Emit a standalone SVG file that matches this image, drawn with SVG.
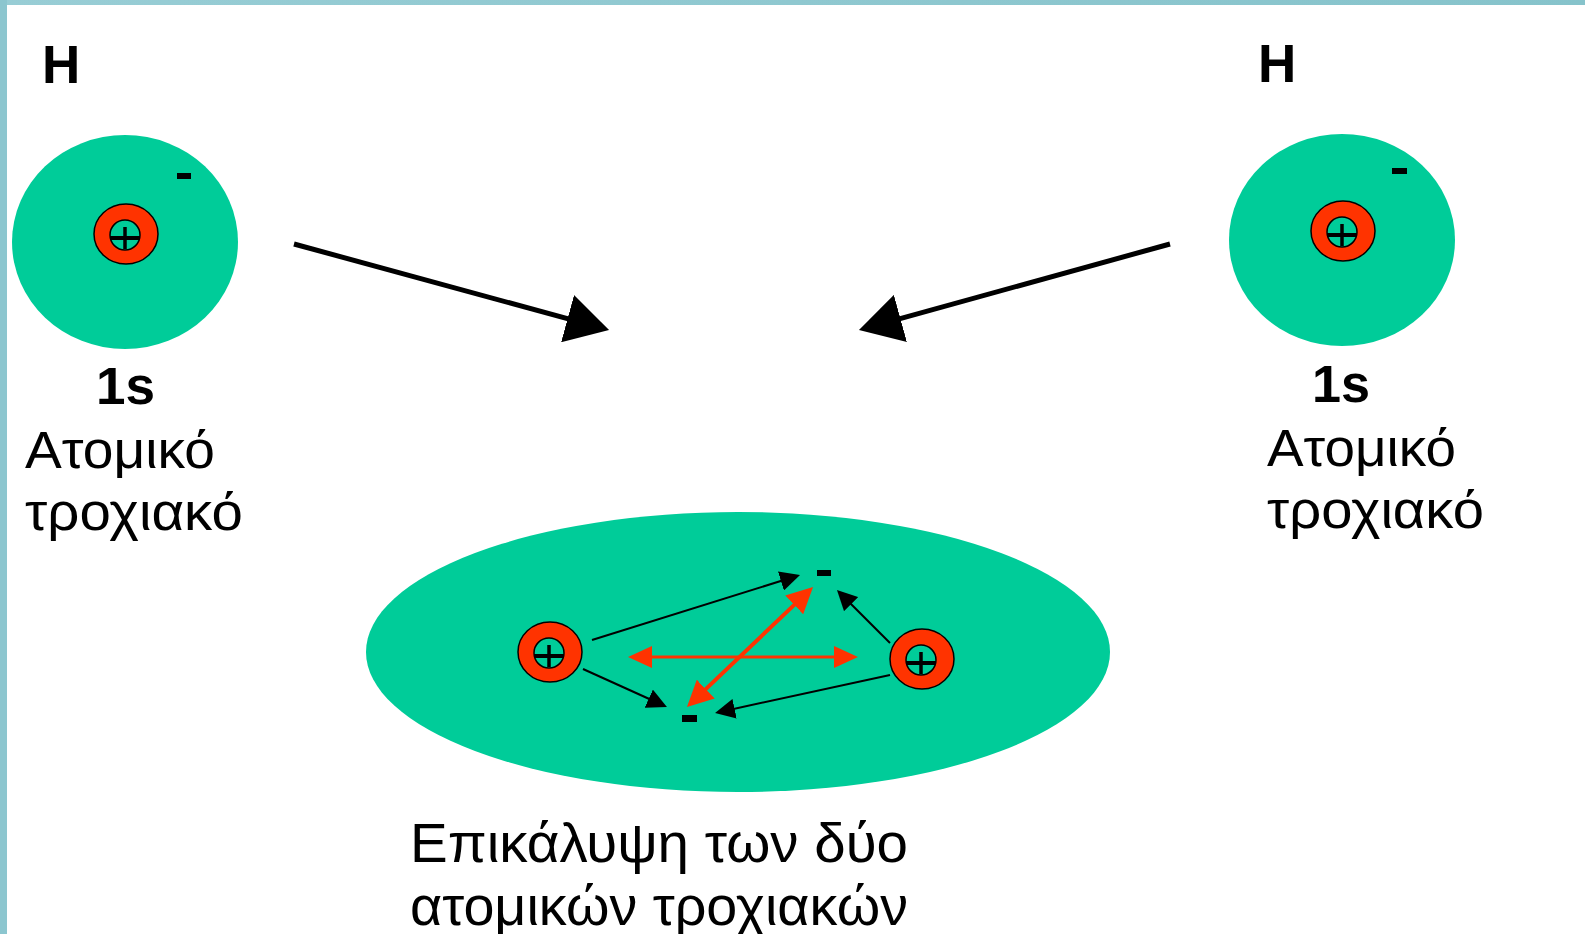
<svg xmlns="http://www.w3.org/2000/svg" width="1585" height="934" viewBox="0 0 1585 934">
  <style>
    .cloud { fill: #00cc99; }
    .ring { fill: #ff3300; stroke: #000; stroke-width: 1.5; }
    .core { fill: #00cc99; stroke: #000; stroke-width: 1.5; }
    .plus { stroke: #000; fill: none; }
    .minus { fill: #000; }
    .lbl { font-family: "Liberation Sans", Arial, sans-serif; fill: #000; }
    .bold { font-weight: bold; }
    .big { stroke: #000; stroke-width: 5; fill: none; }
    .thin { stroke: #000; stroke-width: 2; fill: none; }
    .red3 { stroke: #ff3300; stroke-width: 3; fill: none; }
    .red4 { stroke: #ff3300; stroke-width: 4; fill: none; }
  </style>
  <defs>
    <linearGradient id="frameTop" x1="0" y1="0" x2="1" y2="0">
      <stop offset="0" stop-color="#98cdd5"/>
      <stop offset="1" stop-color="#86c3cb"/>
    </linearGradient>
    <marker id="headBig" markerUnits="userSpaceOnUse" viewBox="0 0 43 49" markerWidth="43" markerHeight="49" refX="33" refY="24.5" orient="auto">
      <path d="M0,0 L43,24.5 L0,49 Z" fill="#000"/>
    </marker>
    <marker id="headSmall" markerUnits="userSpaceOnUse" viewBox="0 0 20 20" markerWidth="20" markerHeight="20" refX="14" refY="10" orient="auto">
      <path d="M0,0 L20,10 L0,20 Z" fill="#000"/>
    </marker>
    <marker id="headRed" markerUnits="userSpaceOnUse" viewBox="0 0 24 22" markerWidth="24" markerHeight="22" refX="18" refY="11" orient="auto-start-reverse">
      <path d="M0,0 L24,11 L0,22 Z" fill="#ff3300"/>
    </marker>
    <marker id="headRedBig" markerUnits="userSpaceOnUse" viewBox="0 0 26 26" markerWidth="26" markerHeight="26" refX="20" refY="13" orient="auto-start-reverse">
      <path d="M0,0 L26,13 L0,26 Z" fill="#ff3300"/>
    </marker>
    <!-- nucleus: red ring, teal core, plus sign -->
    <g id="nucleus">
      <ellipse class="ring" cx="0" cy="0" rx="32" ry="30"/>
      <circle class="core" cx="-1" cy="1" r="15"/>
      <line class="plus" x1="-16" y1="4" x2="14" y2="4" stroke-width="4"/>
      <line class="plus" x1="-1" y1="-7" x2="-1" y2="15" stroke-width="3.5"/>
    </g>
  </defs>

  <rect width="1585" height="934" fill="#fff"/>
  <rect x="0" y="0" width="1585" height="5" fill="url(#frameTop)"/>
  <rect x="0" y="0" width="7" height="934" fill="#8cc6cf"/>

  <!-- left hydrogen atom -->
  <g id="atom-left">
    <text class="lbl bold" x="42" y="83" font-size="53">H</text>
    <ellipse class="cloud" cx="125" cy="242" rx="113" ry="107"/>
    <use href="#nucleus" x="126" y="234"/>
    <rect class="minus" x="177" y="173" width="14" height="6"/>
    <text class="lbl bold" x="96" y="404" font-size="51" textLength="59" lengthAdjust="spacingAndGlyphs">1s</text>
    <text class="lbl" x="25" y="468" font-size="51" textLength="190" lengthAdjust="spacingAndGlyphs">Ατομικό</text>
    <text class="lbl" x="25" y="530" font-size="51" textLength="218" lengthAdjust="spacingAndGlyphs">τροχιακό</text>
  </g>

  <!-- right hydrogen atom -->
  <g id="atom-right">
    <text class="lbl bold" x="1258" y="82" font-size="53">H</text>
    <ellipse class="cloud" cx="1342" cy="240" rx="113" ry="106"/>
    <use href="#nucleus" x="1343" y="231"/>
    <rect class="minus" x="1392" y="168" width="15" height="6"/>
    <text class="lbl bold" x="1312" y="402" font-size="51" textLength="58" lengthAdjust="spacingAndGlyphs">1s</text>
    <text class="lbl" x="1267" y="466" font-size="51" textLength="189" lengthAdjust="spacingAndGlyphs">Ατομικό</text>
    <text class="lbl" x="1267" y="528" font-size="51" textLength="217" lengthAdjust="spacingAndGlyphs">τροχιακό</text>
  </g>

  <!-- overlapping orbitals (H2 molecule) -->
  <g id="molecule">
    <ellipse class="cloud" cx="738" cy="652" rx="372" ry="140"/>
    <use href="#nucleus" x="550" y="652"/>
    <use href="#nucleus" x="922" y="659"/>
    <rect class="minus" x="817" y="570" width="14" height="6"/>
    <rect class="minus" x="682" y="715" width="15" height="7"/>
  </g>

  <g id="connectors">
    <line class="big" x1="294" y1="244" x2="599.4" y2="327.4" marker-end="url(#headBig)"/>
    <line class="big" x1="1170" y1="244" x2="868.6" y2="327.3" marker-end="url(#headBig)"/>
    <line class="thin" x1="592" y1="640" x2="794.3" y2="576.8" marker-end="url(#headSmall)"/>
    <line class="thin" x1="583" y1="669" x2="661.5" y2="704.5" marker-end="url(#headSmall)"/>
    <line class="thin" x1="890" y1="643" x2="841.2" y2="594.2" marker-end="url(#headSmall)"/>
    <line class="thin" x1="890" y1="675" x2="720.9" y2="711.7" marker-end="url(#headSmall)"/>
    <line class="red3" x1="634" y1="657" x2="852" y2="657" marker-start="url(#headRed)" marker-end="url(#headRed)"/>
    <line class="red4" x1="691.3" y1="702.9" x2="808.7" y2="591.1" marker-start="url(#headRedBig)" marker-end="url(#headRedBig)"/>
  </g>

  <g id="caption">
    <text class="lbl" x="410" y="862" font-size="56" textLength="498" lengthAdjust="spacingAndGlyphs">Επικάλυψη των δύο</text>
    <text class="lbl" x="410" y="925" font-size="56" textLength="498" lengthAdjust="spacingAndGlyphs">ατομικών τροχιακών</text>
  </g>
</svg>
